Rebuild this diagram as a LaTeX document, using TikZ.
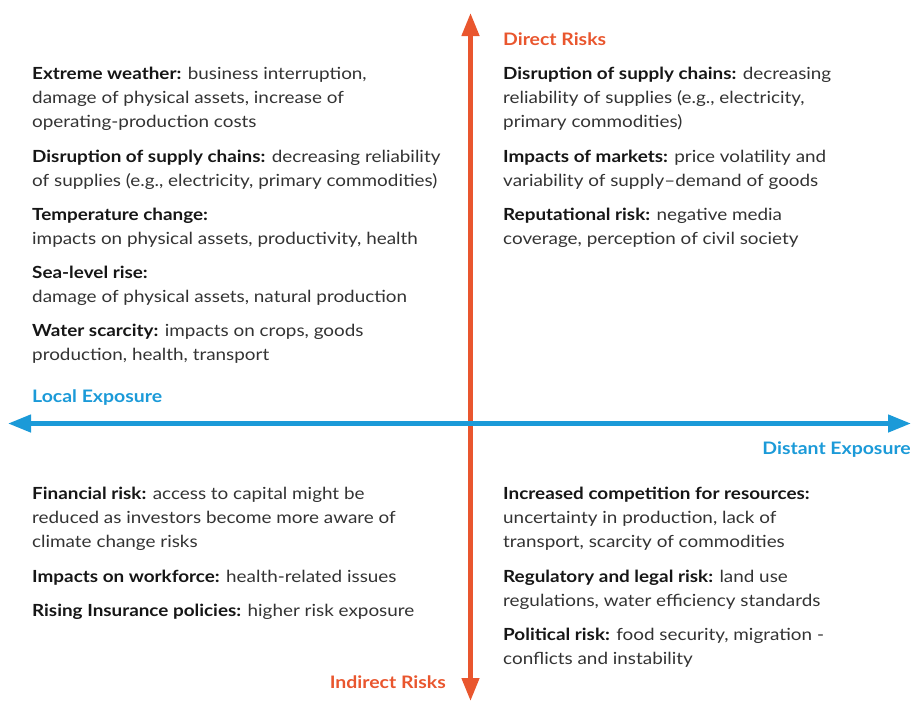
\documentclass[tikz,border=0pt]{standalone}
\usepackage{fontspec}
\setmainfont{Lato}[FakeStretch=1.13]
\usetikzlibrary{arrows.meta}
\definecolor{riskred}{HTML}{E9562E}
\definecolor{expblue}{HTML}{1B9AD8}
\definecolor{bodytxt}{HTML}{333333}
\definecolor{headtxt}{HTML}{161616}
\newcommand{\hd}[1]{{\color{headtxt}\bfseries #1}}
\tikzset{
  item/.style={anchor=base west, inner sep=0pt, align=left, text=bodytxt,
    font=\fontsize{16.7}{24}\selectfont},
  axislabel/.style={inner sep=0pt, font=\fontsize{17.2}{20}\selectfont\bfseries},
  riskaxis/.style={riskred, line width=4.5pt, -{Triangle[width=17pt,length=23pt]}},
  expaxis/.style={expblue, line width=4.5pt, -{Triangle[width=17pt,length=23pt]}}
}
\begin{document}
\begin{tikzpicture}[x=1pt,y=-1pt]
\useasboundingbox (0,0) rectangle (913,702);
% axes
\coordinate (cv) at (470.5,423.5);
\coordinate (top) at (470.5,13);
\coordinate (bot) at (470.5,701);
\coordinate (lft) at (8,423.5);
\coordinate (rgt) at (911,423.5);
\draw[riskaxis] (cv) -- (top);
\draw[riskaxis] (cv) -- (bot);
\draw[expaxis] (cv) -- (lft);
\draw[expaxis] (cv) -- (rgt);
% axis labels
\node[axislabel, text=riskred, anchor=west] (direct) at (503,39) {Direct Risks};
\node[axislabel, text=riskred, anchor=east] (indirect) at (446,682) {Indirect Risks};
\node[axislabel, text=expblue, anchor=west] (local) at (32,398) {Local Exposure};
\node[axislabel, text=expblue, anchor=east] (distant) at (911,450) {Distant Exposure};
% top-left (anchor = baseline of last line)
\node[item] (tl1) at (32,127) {\hd{Extreme weather:} business interruption,\\damage of physical assets, increase of\\operating-production costs};
\node[item] (tl2) at (32,186) {\hd{Disruption of supply chains:} decreasing reliability\\of supplies (e.g., electricity, primary commodities)};
\node[item] (tl3) at (32,244) {\hd{Temperature change:}\\impacts on physical assets, productivity, health};
\node[item] (tl4) at (32,302) {\hd{Sea-level rise:}\\damage of physical assets, natural production};
\node[item] (tl5) at (32,360) {\hd{Water scarcity:} impacts on crops, goods\\production, health, transport};
% top-right
\node[item] (tr1) at (503,127) {\hd{Disruption of supply chains:} decreasing\\reliability of supplies (e.g., electricity,\\primary commodities)};
\node[item] (tr2) at (503,186) {\hd{Impacts of markets:} price volatility and\\variability of supply--demand of goods};
\node[item] (tr3) at (503,244) {\hd{Reputational risk:} negative media\\coverage, perception of civil society};
% bottom-left
\node[item] (bl1) at (32,547) {\hd{Financial risk:} access to capital might be\\reduced as investors become more aware of\\climate change risks};
\node[item] (bl2) at (32,582) {\hd{Impacts on workforce:} health-related issues};
\node[item] (bl3) at (32,616) {\hd{Rising Insurance policies:} higher risk exposure};
% bottom-right
\node[item] (br1) at (503,547) {\hd{Increased competition for resources:}\\uncertainty in production, lack of\\transport, scarcity of commodities};
\node[item] (br2) at (503,606) {\hd{Regulatory and legal risk:} land use\\regulations, water efficiency standards};
\node[item] (br3) at (503,664) {\hd{Political risk:} food security, migration -\\conflicts and instability};
\end{tikzpicture}
\end{document}
